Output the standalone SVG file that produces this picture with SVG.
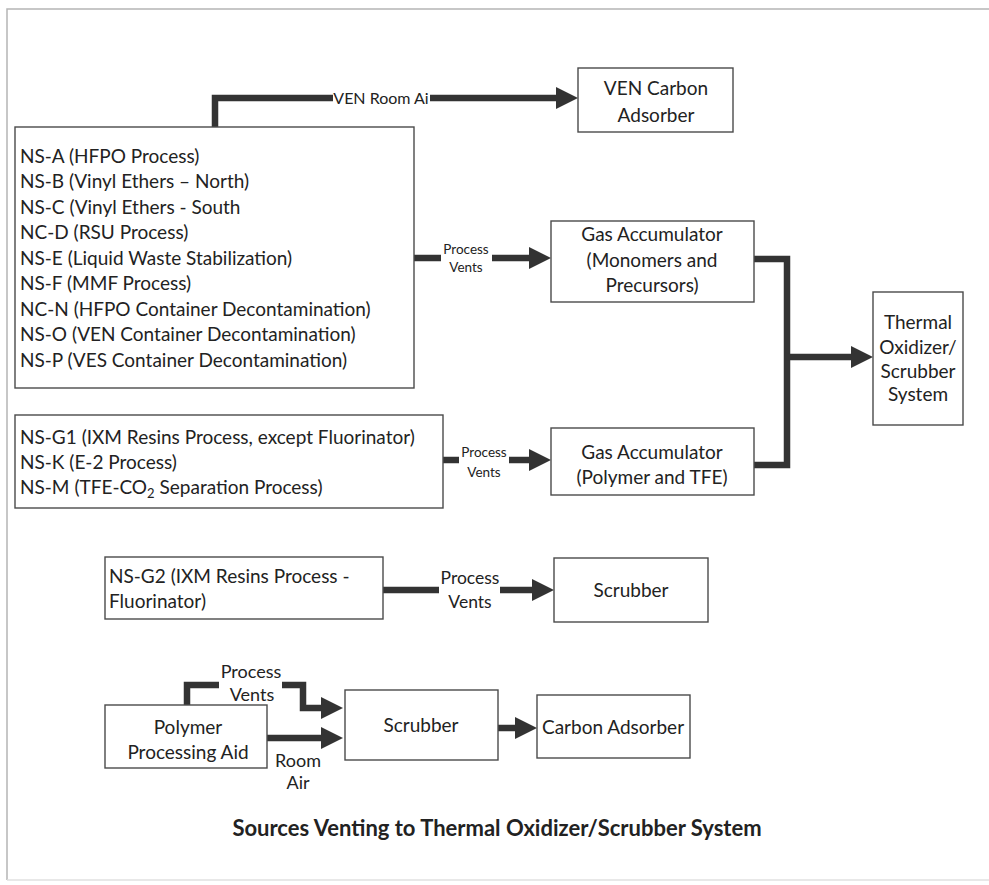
<svg xmlns="http://www.w3.org/2000/svg" width="989" height="885" viewBox="0 0 989 885">
<style>
  .box{fill:#fff;stroke:#4a4a4a;stroke-width:1.4}
  .t{font-family:Lato,"Liberation Sans",sans-serif;fill:#222;font-size:19px}
  .c{text-anchor:middle}
  .lbl{font-family:Lato,"Liberation Sans",sans-serif;fill:#222;text-anchor:middle}
  .w{fill:none;stroke:#333;stroke-width:6.5;stroke-linejoin:miter}
  .title{font-family:Lato,"Liberation Sans",sans-serif;font-weight:bold;font-size:22px;fill:#222;text-anchor:middle}
</style>
<defs>
  <marker id="ah" markerUnits="userSpaceOnUse" markerWidth="24" markerHeight="24" refX="4" refY="11" orient="auto">
    <path d="M0,0 L22,11 L0,22 z" fill="#333"/>
  </marker>
</defs>
<rect x="0" y="0" width="989" height="885" fill="#fff"/>
<g id="frame" fill="none" stroke="#b5b5b5" stroke-width="1.5">
  <path d="M7,880 L7,9 L989,9"/>
  <path d="M7,880 L989,880" stroke="#e0e0e0"/>
</g>

<g id="connectors">
  <!-- VEN Room Air -->
  <path class="w" d="M215,128 L215,98 L333,98"/>
  <path class="w" d="M430,98 L560,98" marker-end="url(#ah)"/>
  <text class="lbl" x="381" y="104" font-size="16">VEN Room Ai</text>
  <!-- Process vents to Gas Acc 1 -->
  <path class="w" d="M414,258 L441,258"/>
  <path class="w" d="M492,258 L533,258" marker-end="url(#ah)"/>
  <text class="lbl" x="466" y="254" font-size="13.5">Process</text>
  <text class="lbl" x="466" y="272" font-size="13.5">Vents</text>
  <!-- Process vents to Gas Acc 2 -->
  <path class="w" d="M443,460 L459,460"/>
  <path class="w" d="M509,460 L533,460" marker-end="url(#ah)"/>
  <text class="lbl" x="484" y="457" font-size="13.5">Process</text>
  <text class="lbl" x="484" y="477" font-size="13.5">Vents</text>
  <!-- collector to Thermal Oxidizer -->
  <path class="w" d="M754,259 L787,259 L787,465 L754,465"/>
  <path class="w" d="M787,357 L855,357" marker-end="url(#ah)"/>
  <!-- NS-G2 to Scrubber -->
  <path class="w" d="M383,590 L439,590"/>
  <path class="w" d="M500,590 L536,590" marker-end="url(#ah)"/>
  <text class="lbl" x="470" y="584" font-size="17.5">Process</text>
  <text class="lbl" x="470" y="608" font-size="17.5">Vents</text>
  <!-- Polymer Processing Aid process vents -->
  <path class="w" d="M187,705 L187,685 L219,685"/>
  <path class="w" d="M282,685 L303,685 L303,708 L325,708" marker-end="url(#ah)"/>
  <text class="lbl" x="251" y="678" font-size="18">Process</text>
  <text class="lbl" x="252" y="701" font-size="18">Vents</text>
  <!-- Room air -->
  <path class="w" d="M267,738 L325,738" marker-end="url(#ah)"/>
  <text class="lbl" x="298" y="767" font-size="18">Room</text>
  <text class="lbl" x="298" y="789" font-size="18">Air</text>
  <!-- Scrubber to Carbon Adsorber -->
  <path class="w" d="M498,728 L519,728" marker-end="url(#ah)"/>
</g>

<g id="sources-main">
  <rect class="box" x="15" y="127" width="399" height="261"/>
  <text class="t" x="20" y="162.5">NS-A (HFPO Process)</text>
  <text class="t" x="20" y="188">NS-B (Vinyl Ethers – North)</text>
  <text class="t" x="20" y="213.5">NS-C (Vinyl Ethers - South</text>
  <text class="t" x="20" y="239">NC-D (RSU Process)</text>
  <text class="t" x="20" y="264.5">NS-E (Liquid Waste Stabilization)</text>
  <text class="t" x="20" y="290">NS-F (MMF Process)</text>
  <text class="t" x="20" y="315.5">NC-N (HFPO Container Decontamination)</text>
  <text class="t" x="20" y="341">NS-O (VEN Container Decontamination)</text>
  <text class="t" x="20" y="366.5">NS-P (VES Container Decontamination)</text>
</g>

<g id="ven-carbon-adsorber">
  <rect class="box" x="578" y="68" width="155" height="64"/>
  <text class="t c" x="656" y="95" font-size="19.5">VEN Carbon</text>
  <text class="t c" x="656" y="122" font-size="19.5">Adsorber</text>
</g>

<g id="gas-accumulator-1">
  <rect class="box" x="551" y="221" width="203" height="81"/>
  <text class="t c" x="652" y="241" font-size="21">Gas Accumulator</text>
  <text class="t c" x="652" y="267" font-size="21">(Monomers and</text>
  <text class="t c" x="652" y="292" font-size="21">Precursors)</text>
</g>

<g id="thermal-oxidizer">
  <rect class="box" x="873" y="292" width="90" height="133"/>
  <text class="t c" x="918" y="329" font-size="18">Thermal</text>
  <text class="t c" x="918" y="354" font-size="18">Oxidizer/</text>
  <text class="t c" x="918" y="378" font-size="18">Scrubber</text>
  <text class="t c" x="918" y="401" font-size="18">System</text>
</g>

<g id="sources-polymer">
  <rect class="box" x="15" y="415" width="428" height="93"/>
  <text class="t" x="20" y="444">NS-G1 (IXM Resins Process, except Fluorinator)</text>
  <text class="t" x="20" y="469">NS-K (E-2 Process)</text>
  <text class="t" x="20" y="494">NS-M (TFE-CO<tspan font-size="13" dy="4">2</tspan><tspan dy="-4"> Separation Process)</tspan></text>
</g>

<g id="gas-accumulator-2">
  <rect class="box" x="551" y="428" width="203" height="67"/>
  <text class="t c" x="652" y="459" font-size="21">Gas Accumulator</text>
  <text class="t c" x="652" y="484" font-size="21">(Polymer and TFE)</text>
</g>

<g id="ns-g2">
  <rect class="box" x="105" y="557" width="278" height="62"/>
  <text class="t" x="109" y="583">NS-G2 (IXM Resins Process -</text>
  <text class="t" x="109" y="608">Fluorinator)</text>
</g>

<g id="scrubber-1">
  <rect class="box" x="554" y="558" width="154" height="64"/>
  <text class="t c" x="631" y="597">Scrubber</text>
</g>

<g id="polymer-processing-aid">
  <rect class="box" x="105" y="705" width="162" height="63"/>
  <text class="t c" x="188" y="734">Polymer</text>
  <text class="t c" x="188" y="759">Processing Aid</text>
</g>

<g id="scrubber-2">
  <rect class="box" x="345" y="690" width="153" height="70"/>
  <text class="t c" x="421" y="732">Scrubber</text>
</g>

<g id="carbon-adsorber">
  <rect class="box" x="537" y="695" width="153" height="63"/>
  <text class="t c" x="613" y="734">Carbon Adsorber</text>
</g>

<text class="title" x="497" y="836">Sources Venting to Thermal Oxidizer/Scrubber System</text>
</svg>
